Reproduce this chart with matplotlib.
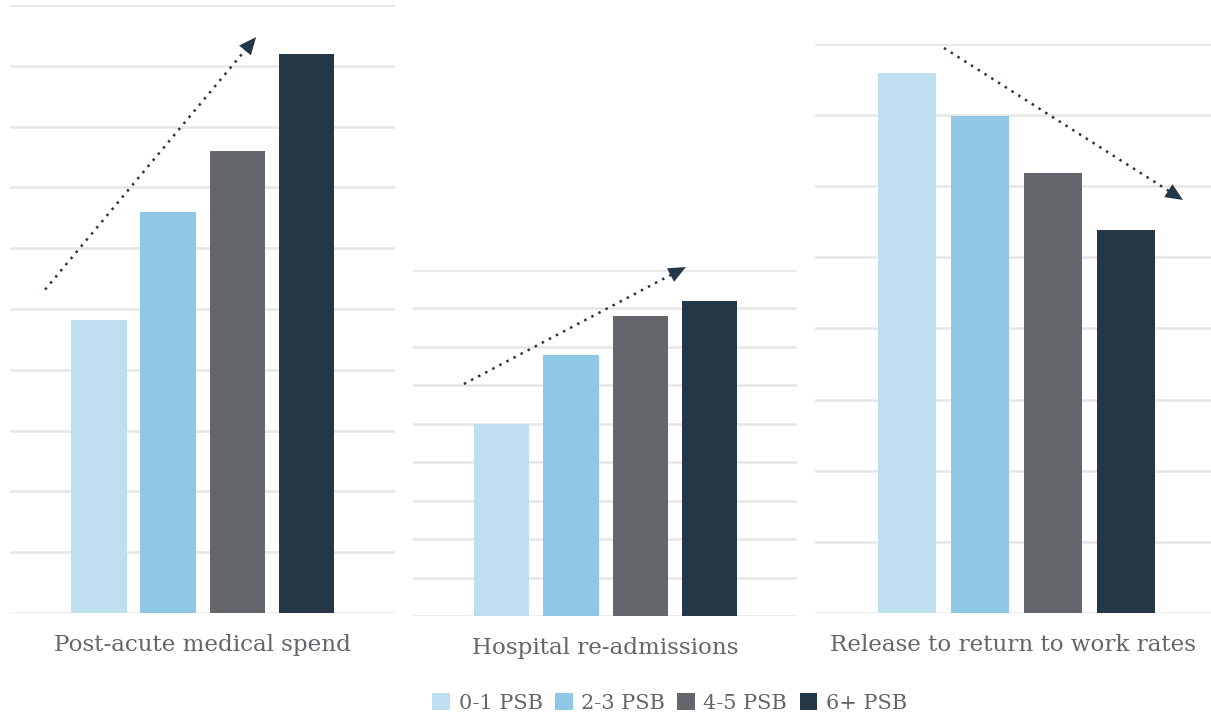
import matplotlib
matplotlib.use("Agg")
import matplotlib.pyplot as plt
from matplotlib.patches import Patch

plt.rcParams['font.family'] = ['DejaVu Serif']

# Data
groups = ["0-1 PSB", "2-3 PSB", "4-5 PSB", "6+ PSB"]
colors = ["#BDDFF0", "#8FC7E7", "#63666A", "#253746"]
panel_titles = ["Post-acute medical spend", "Hospital re-admissions",
                "Release to return to work rates"]
medical_spend = [4.82, 6.60, 7.60, 9.19]
readmissions = [5.0, 6.8, 7.81, 8.2]
return_to_work = [7.59, 6.99, 6.19, 5.39]
panel_values = [medical_spend, readmissions, return_to_work]
panel_ymax = [10, 9, 8]

# Axes rectangles (figure fraction) and x-limits per panel
rects = [
    [0.0083, 0.1439, 0.318, 0.849],
    [0.341, 0.1397, 0.317, 0.4832],
    [0.673, 0.1439, 0.327, 0.7947],
]
xlims = [(-1.29, 4.29), (-1.28, 4.26), (-1.26, 4.16)]
# Trend arrows in axes-fraction coordinates: (start, end)
trends = [
    ((0.091, 0.532), ((256 - 10) / 385, (613 - 37) / 608)),
    (((464 - 413) / 384, (616 - 384) / 346), ((686 - 413) / 384, (616 - 267) / 346)),
    (((944 - 815) / 396, (613 - 48) / 569), ((1183 - 815) / 396, (613 - 200) / 569)),
]

fig = plt.figure(figsize=(12.11, 7.16), dpi=100)
text_color = "#63666A"
arrow_color = "#253746"

for i, (vals, title) in enumerate(zip(panel_values, panel_titles)):
    ax = fig.add_axes(rects[i])
    xs = range(len(vals))
    ax.bar(xs, vals, width=0.8, color=colors, zorder=3)
    ax.set_xlim(*xlims[i])
    ax.set_ylim(0, panel_ymax[i])
    ax.set_yticks(range(0, panel_ymax[i] + 1))
    ax.set_xticks([])
    ax.tick_params(left=False, labelleft=False)
    ax.grid(axis='y', color="#E6E6E6", linewidth=1.8, zorder=0)
    ax.set_axisbelow(True)
    for s in ax.spines.values():
        s.set_visible(False)
    ax.patch.set_alpha(0)
    ax.annotate(title, xy=(0.5, 0), xycoords='axes fraction',
                xytext=(0, -23), textcoords='offset points',
                ha='center', va='center', fontsize=16.6, color=text_color)

    (x0, y0), (x1, y1) = trends[i]
    # dotted trend line
    ax.plot([x0, x1 - (x1 - x0) * 0.05], [y0, y1 - (y1 - y0) * 0.05],
            transform=ax.transAxes, linestyle=(0, (1, 2.2)), linewidth=1.8,
            color=arrow_color, clip_on=False, zorder=5)
    # arrow head
    ax.annotate("", xy=(x1, y1), xycoords='axes fraction',
                xytext=(x1 - (x1 - x0) * 0.1, y1 - (y1 - y0) * 0.1),
                textcoords='axes fraction',
                arrowprops=dict(arrowstyle='-|>,head_length=1.25,head_width=0.55',
                                color=arrow_color, linewidth=0, shrinkA=0, shrinkB=0),
                zorder=6)

handles = [Patch(facecolor=c, edgecolor='none', label=g) for c, g in zip(colors, groups)]
leg = fig.legend(handles=handles, loc='center', bbox_to_anchor=(0.553, 0.018),
                 ncol=4, frameon=False, fontsize=15, handlelength=0.85,
                 handleheight=0.85, handletextpad=0.4, columnspacing=0.6)
for t in leg.get_texts():
    t.set_color(text_color)

fig.savefig("out.png", dpi=100)
